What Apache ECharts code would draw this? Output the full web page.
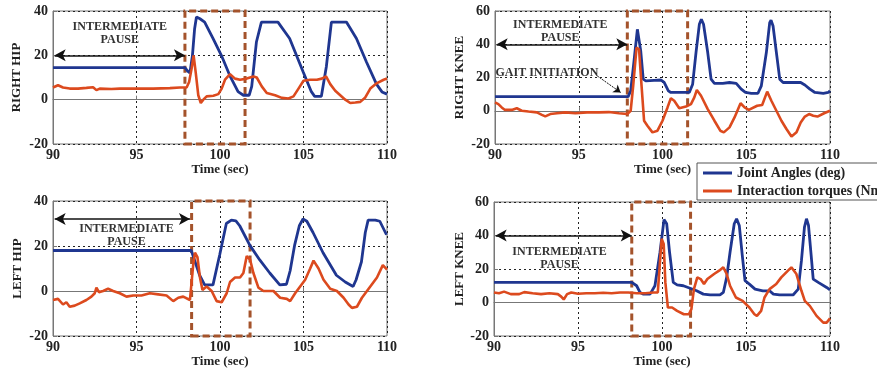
<!DOCTYPE html>
<html lang="en">

<head>
    <meta charset="UTF-8">
    <title>Joint angles and interaction torques</title>
    <script src="https://cdn.jsdelivr.net/npm/echarts@6/dist/echarts.min.js"></script>
    <style>
        body { margin: 0; background: #fff; }
        #main { width: 877px; height: 369px; }
    </style>
</head>

<body>
    <div id="main"></div>
    <script>
        // [time (sec), value] pairs
        var rightHipAngle = [[90,14.5],[97.9,14.5],[98.05,13],[98.2,12],[98.35,20],[98.48,32],[98.59,37.3],[98.8,36.5],[99.08,35],[99.58,27.6],[100.08,20],[100.58,11],[101.08,3.6],[101.4,2],[101.75,2],[101.9,6],[102.18,26],[102.48,35],[103.0,35],[103.47,35],[104.17,27.6],[104.97,12.7],[105.47,3.6],[105.67,1.5],[106.07,1.5],[106.37,15],[106.67,35],[107.1,35],[107.57,35],[108.17,27.6],[108.77,17],[109.37,7],[109.7,3.5],[110,2.5]];
        var rightHipTorque = [[90,5.5],[90.3,6.5],[90.6,5.5],[91,5],[91.5,5],[92,5.3],[92.4,5.6],[92.6,4.3],[92.8,5],[93.5,4.8],[94,5],[95,5],[96,5],[97,5.2],[97.6,5.5],[98.0,5.5],[98.15,8],[98.3,14],[98.42,20],[98.55,12],[98.7,2],[98.85,-1.5],[99.0,0],[99.2,1.5],[99.6,1.8],[99.9,2.5],[100.1,5],[100.3,9],[100.6,11.5],[100.9,9.5],[101.2,9],[101.6,9.5],[102.0,10.5],[102.2,10],[102.5,6],[102.8,3],[103.3,2],[103.7,0.8],[104.1,0.5],[104.4,1.5],[104.7,5],[105.0,8.5],[105.4,9],[105.8,9],[106.1,9.5],[106.35,10.5],[106.6,7],[106.9,4],[107.2,2],[107.5,0],[107.8,-1.5],[108.1,-1.3],[108.4,-1],[108.7,1],[109.0,5],[109.4,7.5],[109.8,9],[110,9.5]];

        var rightKneeAngle = [[90,8.5],[97.95,8.5],[98.1,12],[98.3,30],[98.5,49],[98.58,50],[98.7,36],[98.85,19],[99.0,18],[99.5,18.3],[99.9,18.5],[100.1,17],[100.35,12],[100.5,11],[101.0,11],[101.6,11],[101.8,16],[102.0,35],[102.2,52],[102.32,55],[102.45,52],[102.7,35],[102.9,19],[103.1,16.5],[103.6,16.5],[104.0,17],[104.4,16.5],[104.7,13],[104.95,11],[105.3,10.5],[105.7,10.5],[105.9,15],[106.2,35],[106.4,53],[106.48,54.5],[106.6,51],[106.8,35],[107.0,19],[107.2,17],[107.8,17],[108.25,17],[108.5,15.5],[108.8,13],[109.1,11],[109.6,10.5],[109.9,11],[110,12]];
        var rightKneeTorque = [[90,5],[90.2,4],[90.4,2],[90.6,0.5],[91.0,0.5],[91.3,1.5],[91.6,0],[92.0,-0.5],[92.5,-1],[92.8,-2.5],[93.0,-3.4],[93.3,-2],[93.7,-1.5],[94.2,-1],[94.8,-1.5],[95.5,-1],[96.2,-1],[96.8,-0.8],[97.4,-1.5],[97.9,-2],[98.1,0],[98.25,15],[98.45,38],[98.6,37],[98.75,15],[98.9,-6],[99.1,-9],[99.4,-13],[99.7,-12],[100.0,-6],[100.3,2],[100.5,7.5],[100.7,6],[101.0,1.5],[101.4,2.5],[101.7,4],[101.9,8],[102.05,12.5],[102.3,9],[102.7,1],[103.1,-6],[103.45,-12],[103.66,-13],[104.0,-10],[104.3,-4],[104.66,4.5],[104.9,2],[105.15,0.5],[105.65,3],[105.95,3.5],[106.25,11.5],[106.5,6],[106.8,0],[107.1,-6],[107.4,-11],[107.7,-15.5],[108.0,-13],[108.25,-7],[108.5,-3.5],[108.75,-2],[109.0,-3],[109.25,-3.5],[109.65,-1.5],[110,0]];

        var leftHipAngle = [[90,18],[98.28,18],[98.38,17.5],[98.78,7],[99.08,2.7],[99.58,2.7],[99.98,16],[100.38,30],[100.68,31.5],[100.95,31.2],[101.18,29],[101.78,20.4],[102.38,13.8],[102.98,8],[103.58,2.7],[103.98,3],[104.2,9],[104.47,20.4],[104.75,29],[104.97,32],[105.2,31],[105.57,26],[106.17,17],[106.97,7],[107.5,4],[107.97,2],[108.15,5],[108.47,13],[108.7,26],[108.87,31.5],[109.3,31.5],[109.57,31],[109.97,25]];
        var leftHipTorque = [[90,-4],[90.3,-3.5],[90.6,-6],[90.8,-5],[91.0,-7],[91.3,-6.5],[91.6,-5.5],[92.0,-4],[92.3,-2.5],[92.5,-1],[92.6,1.5],[92.75,-0.5],[93.0,0],[93.3,1],[93.6,0],[94.0,-1],[94.4,-2.5],[94.8,-2],[95.3,-2],[95.8,-1],[96.3,-1.5],[96.8,-2],[97.2,-4.5],[97.5,-3],[97.8,-2.5],[98.2,-4],[98.3,-4],[98.4,12],[98.5,17],[98.65,15],[98.8,6],[98.95,0.5],[99.2,2],[99.5,0],[99.8,-4.5],[100.1,-5],[100.4,-1],[100.6,4],[100.9,6],[101.2,6],[101.4,8],[101.6,15.5],[101.8,14],[102.0,8],[102.3,1.5],[102.6,0],[103.2,0],[103.6,-3],[104.0,-3.5],[104.2,-4.5],[104.5,-1],[104.8,2],[105.1,5],[105.4,10],[105.6,13.5],[105.9,10],[106.2,5],[106.6,1],[107.0,0],[107.4,-3],[107.7,-6],[107.9,-7.5],[108.2,-7],[108.5,-3],[108.8,0],[109.1,3],[109.4,6],[109.75,11.5],[109.85,11],[110,9.5]];

        var leftKneeAngle = [[90,12],[98.2,12],[98.49,10],[98.69,6],[98.9,5],[99.29,5],[99.58,10],[99.88,30],[100.12,49.5],[100.28,47],[100.45,30],[100.67,12],[100.9,10.5],[101.27,10],[101.67,8.5],[102.06,7],[102.46,5],[102.86,4.5],[103.45,4.5],[103.65,6],[103.85,15],[104.05,30],[104.3,47],[104.44,50],[104.6,46],[104.78,28],[104.94,13],[105.2,11],[105.54,8],[106.0,7],[106.4,7],[106.63,5],[107.0,4.5],[107.8,4.5],[108.11,8],[108.3,25],[108.48,45],[108.6,50],[108.72,46],[108.88,28],[109.0,14],[109.3,12],[109.8,9],[110,7.5]];
        var leftKneeTorque = [[90,6],[90.3,5.5],[90.6,6.5],[91.0,5],[91.5,5],[91.8,6.2],[92.3,5.5],[92.8,5],[93.3,5.5],[93.8,5],[94.0,3.5],[94.15,1.8],[94.35,5],[94.6,6],[95.0,5.2],[95.5,5.5],[96.0,5.5],[96.5,5.8],[97.0,5.5],[97.5,6],[98.0,6],[98.5,5.5],[99.0,5.5],[99.5,6],[99.75,6],[99.85,20],[99.98,38],[100.1,35],[100.2,12],[100.35,-3],[100.6,-3],[100.9,-5],[101.3,-7],[101.6,-7],[101.75,-4],[101.9,8],[102.1,15],[102.3,14],[102.5,11],[102.7,14],[103.1,17],[103.4,19],[103.65,21],[103.85,17],[104.05,10],[104.4,3],[104.8,1],[105.2,-3],[105.5,-7],[105.65,-8],[105.9,-5],[106.1,3],[106.4,8],[106.8,11],[107.1,15],[107.5,19],[107.7,21],[108.0,17],[108.3,7],[108.5,1],[108.8,-2],[109.2,-8],[109.6,-12],[109.8,-12],[110,-9.5]];

        // tick labels / ranges
        var xTicks = [90, 95, 100, 105, 110];
        var hipTicks = [-20, 0, 20, 40];
        var kneeTicks = [-20, 0, 20, 40, 60];

        // dashed window [start, end] and pause arrow level
        var windows = [[97.9, 101.5], [97.9, 101.5], [98.3, 101.8], [98.2, 101.7]];
        var pauseEnd = [97.9, 97.9, 98.2, 98.2];
        var pauseLevel = [20, 40, 32, 40];

        var BLUE = '#1f3690';
        var RED = '#dc4a1e';
        var BOX = '#a4532b';
        var FONT = '"Liberation Serif", "DejaVu Serif", serif';

        var panels = [
            { name: 'RIGHT HIP', angle: rightHipAngle, torque: rightHipTorque, ticks: hipTicks,
              grid: { left: 53, top: 11, width: 334, height: 133 }, nameGap: 30, textAt: [94, 29.8] },
            { name: 'RIGHT KNEE', angle: rightKneeAngle, torque: rightKneeTorque, ticks: kneeTicks,
              grid: { left: 495, top: 11, width: 335, height: 133 }, nameGap: 29, textAt: [93.9, 47.8] },
            { name: 'LEFT HIP', angle: leftHipAngle, torque: leftHipTorque, ticks: hipTicks,
              grid: { left: 53, top: 201, width: 334, height: 135 }, nameGap: 29, textAt: [94.4, 24.8] },
            { name: 'LEFT KNEE', angle: leftKneeAngle, torque: leftKneeTorque, ticks: kneeTicks,
              grid: { left: 494, top: 202, width: 336, height: 134 }, nameGap: 26, textAt: [93.9, 26.5] }
        ];

        var grids = [], xAxes = [], yAxes = [], series = [];
        var labelFont = { fontFamily: FONT, fontWeight: 'bold', fontSize: 14, color: '#222' };

        panels.forEach(function (p, i) {
            grids.push(Object.assign({ show: true, borderColor: '#777', borderWidth: 1, backgroundColor: '#fff' }, p.grid));
            xAxes.push({
                gridIndex: i, type: 'value', min: xTicks[0], max: xTicks[xTicks.length - 1], interval: 5,
                name: 'Time (sec)', nameLocation: 'middle', nameGap: 18,
                nameTextStyle: { fontFamily: FONT, fontWeight: 'bold', fontSize: 13, color: '#222' },
                axisLine: { show: true, lineStyle: { color: '#777' } },
                axisTick: { inside: true, length: 4, lineStyle: { color: '#777' } },
                axisLabel: Object.assign({ margin: 4 }, labelFont),
                splitLine: { show: true, lineStyle: { type: [2, 3], color: '#222', width: 1 } }
            });
            yAxes.push({
                gridIndex: i, type: 'value', min: p.ticks[0], max: p.ticks[p.ticks.length - 1], interval: 20,
                name: p.name, nameLocation: 'middle', nameGap: p.nameGap, nameRotate: 90,
                nameTextStyle: { fontFamily: FONT, fontWeight: 'bold', fontSize: 13, color: '#222' },
                axisLine: { show: true, lineStyle: { color: '#777' } },
                axisTick: { inside: true, length: 4, lineStyle: { color: '#777' } },
                axisLabel: Object.assign({ margin: 5 }, labelFont),
                splitLine: { show: true, lineStyle: { type: [2, 3], color: '#222', width: 1 } }
            });

            var marks = {
                markArea: {
                    silent: true,
                    itemStyle: { color: 'rgba(0,0,0,0)', borderColor: BOX, borderWidth: 3, borderType: [7, 4] },
                    data: [[{ xAxis: windows[i][0], yAxis: p.ticks[0] }, { xAxis: windows[i][1], yAxis: p.ticks[p.ticks.length - 1] }]]
                },
                markLine: {
                    silent: true, animation: false,
                    symbol: ['arrow', 'arrow'], symbolSize: [9, 11],
                    label: { show: false },
                    lineStyle: { color: '#111', width: 1.6, type: 'solid' },
                    data: [[{ coord: [90.1, pauseLevel[i]] }, { coord: [pauseEnd[i], pauseLevel[i]] }]]
                }
            };
            if (i === 1) {
                marks.markLine.data.push([
                    { coord: [96.1, 21], symbol: 'none', lineStyle: { width: 1, type: [2, 1] } },
                    { coord: [97.5, 11], symbol: 'arrow', symbolSize: 7, lineStyle: { width: 1, type: [2, 1] } }
                ]);
            }

            series.push(Object.assign({
                name: 'Joint Angles (deg)', type: 'line', xAxisIndex: i, yAxisIndex: i,
                data: p.angle, showSymbol: false, symbol: 'none', color: BLUE,
                lineStyle: { width: 2.8, color: BLUE }, animation: false
            }, marks));

            var notes = [{ coord: p.textAt, value: 'INTERMEDIATE\nPAUSE' }];
            if (i === 1) notes.push({ coord: [93.1, 23], value: 'GAIT INITIATION' });
            series.push({
                name: 'Interaction torques (Nm)', type: 'line', xAxisIndex: i, yAxisIndex: i,
                data: p.torque, showSymbol: false, symbol: 'none', color: RED,
                lineStyle: { width: 2.6, color: RED }, animation: false,
                markPoint: {
                    silent: true, symbol: 'circle', symbolSize: 1,
                    itemStyle: { color: 'rgba(0,0,0,0)' },
                    label: {
                        show: true, position: 'inside', formatter: '{c}',
                        fontFamily: FONT, fontWeight: 'bold', fontSize: 12, lineHeight: 13, color: '#333'
                    },
                    data: notes
                }
            });
        });

        var myChart = echarts.init(document.getElementById('main'));
        var option = {
            backgroundColor: '#fff',
            animation: false,
            grid: grids,
            xAxis: xAxes,
            yAxis: yAxes,
            legend: {
                orient: 'vertical', left: 697, top: 163,
                data: ['Joint Angles (deg)', 'Interaction torques (Nm)'],
                icon: 'rect', itemWidth: 29, itemHeight: 3, itemGap: 4,
                padding: [3, 40, 2, 6],
                borderColor: '#555', borderWidth: 1, backgroundColor: '#fff',
                textStyle: { fontFamily: FONT, fontWeight: 'bold', fontSize: 14, color: '#222' }
            },
            series: series
        };
        myChart.setOption(option);
    </script>
</body>

</html>
